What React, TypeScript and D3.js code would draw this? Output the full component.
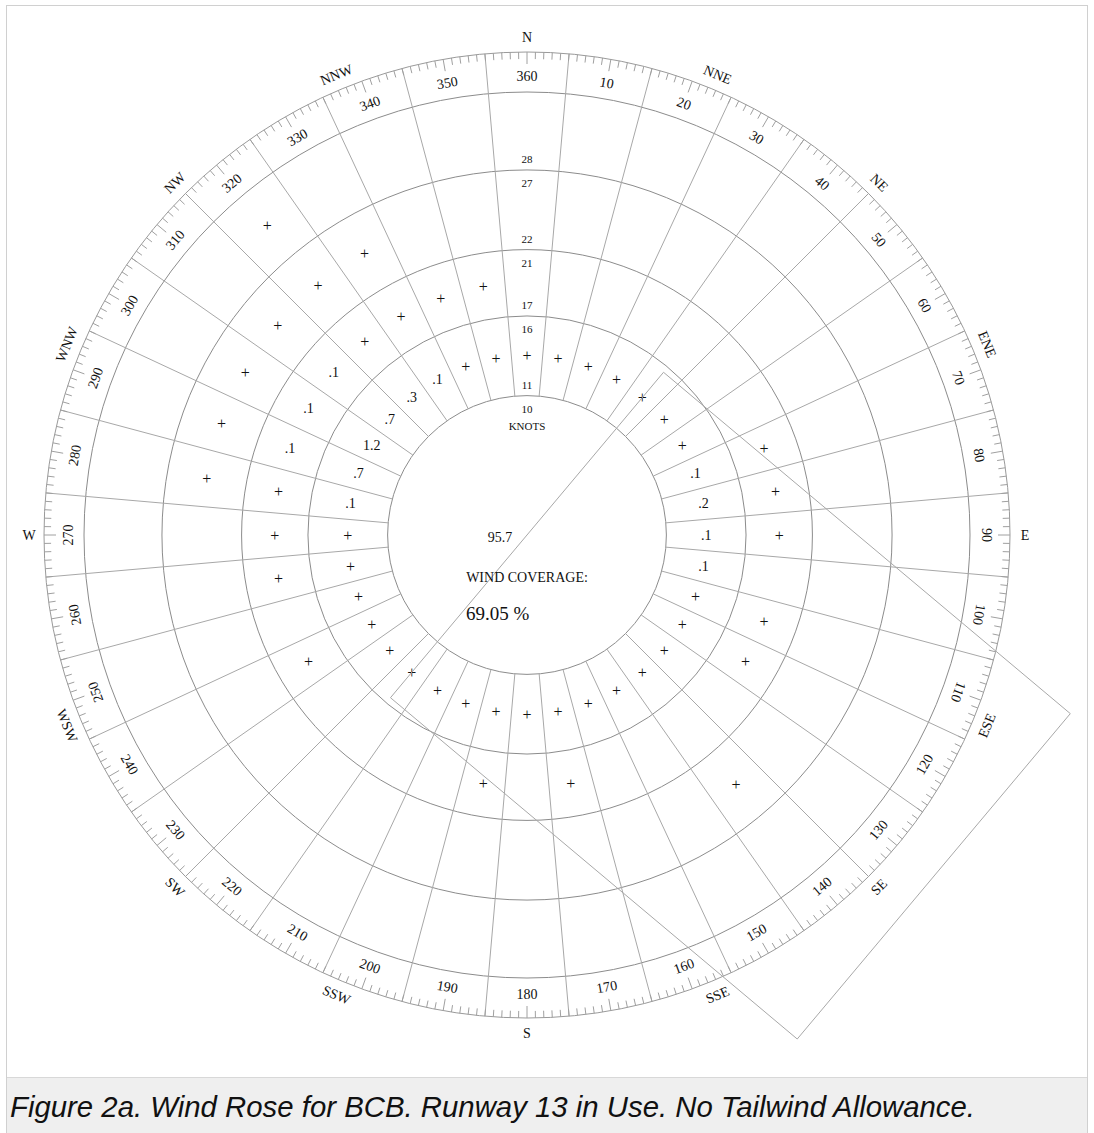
import React from "react";
import * as d3 from "d3";

// ---------- data ----------
const directions = [10, 20, 30, 40, 50, 60, 70, 80, 90, 100, 110, 120, 130, 140, 150, 160, 170, 180,
  190, 200, 210, 220, 230, 240, 250, 260, 270, 280, 290, 300, 310, 320, 330, 340, 350, 360];

// speed-band boundaries (knots) and their labels (inside / outside)
const ringSpeeds = [10.5, 16.5, 21.5, 27.5];
const ringLabelsInner = ["10", "16", "21", "27"];
const ringLabelsOuter = ["11", "17", "22", "28"];
const bandMidSpeeds = [13.5, 19, 24.5, 30.45];

// percentages per direction ("+" = trace)
const band1 = ["+", "+", "+", "+", "+", "+", ".1", ".2", ".1", ".1", "+", "+", "+", "+", "+", "+", "+", "+",
  "+", "+", "+", "+", "+", "+", "+", "+", "+", ".1", ".7", "1.2", ".7", ".3", ".1", "+", "+", "+"];
const band2 = ["", "", "", "", "", "", "+", "+", "+", "", "+", "+", "", "", "", "", "+", "",
  "+", "", "", "", "", "+", "", "+", "+", "+", ".1", ".1", ".1", "+", "+", "+", "+", ""];
const band3 = ["", "", "", "", "", "", "", "", "", "", "", "", "", "+", "", "", "", "",
  "", "", "", "", "", "", "", "", "", "+", "+", "+", "+", "+", "+", "", "", ""];
const band4 = ["", "", "", "", "", "", "", "", "", "", "", "", "", "", "", "", "", "",
  "", "", "", "", "", "", "", "", "", "", "", "", "", "+", "", "", "", ""];
const bands = [band1, band2, band3, band4];

const compassNames = ["N", "NNE", "NE", "ENE", "E", "ESE", "SE", "SSE", "S", "SSW", "SW", "WSW", "W", "WNW", "NW", "NNW"];

const calmPercent = "95.7";
const coverageTitle = "WIND COVERAGE:";
const coverageValue = "69.05 %";
const runwayHeading = 130;
const crosswindLimit = 16;
const runwayLength = 40;
const caption = "Figure 2a. Wind Rose for BCB. Runway 13 in Use. No Tailwind Allowance.";

// ---------- layout ----------
const W = 1094;
const H = 1133;
const cx = 527;
const cy = 535;
const rDirInner = 443;
const rDirOuter = 483;
const rDegLabel = 459;
const rCompass = 498;

const serif = "'Liberation Serif', 'Times New Roman', serif";

export default function App() {
  const r = d3.scaleLinear().domain([0, 40]).range([0, 531]);
  const rad = (deg: number) => (deg * Math.PI) / 180;
  const pt = (deg: number, radius: number) => d3.pointRadial(rad(deg), radius);

  const innerR = r(ringSpeeds[0]);
  const gridColor = "#8c8c8c";
  const radialColor = "#a8a8a8";

  // radial boundaries every 10° offset by 5°
  const boundaries = directions.map((d) => d - 5);

  // ticks every degree
  const ticks = d3.range(0, 360, 1);

  const rot = (a: number) => (a > 111 && a < 249 ? a - 180 : a);

  // runway rectangle
  const A = pt(runwayHeading - 90, r(crosswindLimit));
  const D = pt(runwayHeading + 90, r(crosswindLimit));
  const L = pt(runwayHeading, r(runwayLength));
  const rect = [A, [A[0] + L[0], A[1] + L[1]], [D[0] + L[0], D[1] + L[1]], D];
  const rectPath = d3.line()(rect as [number, number][]) + "Z";

  return (
    <svg
      width={W}
      height={H}
      style={{ position: "absolute", left: 0, top: 0, background: "#fff" }}
      fontFamily={serif}
    >
      {/* frame + caption */}
      <rect x={6.5} y={5.5} width={1081} height={1140} fill="#fff" stroke="#d0d0d0" />
      <rect x={7} y={1077} width={1080} height={60} fill="#efefef" />
      <line x1={7} x2={1087} y1={1077.5} y2={1077.5} stroke="#d8d8d8" />
      <text
        x={10}
        y={1117}
        fontFamily="'Liberation Sans', Arial, sans-serif"
        fontStyle="italic"
        fontSize={29}
        fill="#111"
        textLength={965}
        lengthAdjust="spacingAndGlyphs"
      >
        {caption}
      </text>

      <g transform={`translate(${cx},${cy})`}>
        {/* speed rings */}
        {ringSpeeds.map((s) => (
          <circle key={s} r={r(s)} fill="none" stroke={gridColor} strokeWidth={1} />
        ))}
        <circle r={rDirInner} fill="none" stroke={gridColor} strokeWidth={1} />
        <circle r={rDirOuter} fill="none" stroke={"#9a9a9a"} strokeWidth={1} />

        {/* radial sector lines */}
        {boundaries.map((b) => {
          const p0 = pt(b, innerR);
          const p1 = pt(b, rDirOuter);
          return <line key={b} x1={p0[0]} y1={p0[1]} x2={p1[0]} y2={p1[1]} stroke={radialColor} strokeWidth={1} />;
        })}

        {/* degree ticks */}
        {ticks.map((t) => {
          const len = t % 10 === 0 ? 12 : 7;
          const p0 = pt(t, rDirOuter);
          const p1 = pt(t, rDirOuter - len);
          return <line key={t} x1={p0[0]} y1={p0[1]} x2={p1[0]} y2={p1[1]} stroke="#a0a0a0" strokeWidth={1} />;
        })}

        {/* degree labels */}
        {directions.map((d) => {
          const p = pt(d, rDegLabel);
          return (
            <text
              key={d}
              transform={`translate(${p[0]},${p[1]}) rotate(${rot(d)})`}
              textAnchor="middle"
              dominantBaseline="central"
              fontSize={14}
              fill="#111"
            >
              {d}
            </text>
          );
        })}

        {/* compass labels */}
        {compassNames.map((n, i) => {
          const a = i * 22.5;
          const p = pt(a, rCompass);
          const angle = i % 4 === 0 ? 0 : rot(a);
          return (
            <text
              key={n}
              transform={`translate(${p[0]},${p[1]}) rotate(${angle})`}
              textAnchor="middle"
              dominantBaseline="central"
              fontSize={14}
              fill="#111"
            >
              {n}
            </text>
          );
        })}

        {/* speed labels along north */}
        {ringSpeeds.map((s, i) => (
          <g key={"sl" + s}>
            <text x={0} y={-r(s) + 13} textAnchor="middle" dominantBaseline="central" fontSize={11} fill="#111">
              {ringLabelsInner[i]}
            </text>
            <text x={0} y={-r(s) - 11} textAnchor="middle" dominantBaseline="central" fontSize={11} fill="#111">
              {ringLabelsOuter[i]}
            </text>
          </g>
        ))}
        <text x={0} y={-109} textAnchor="middle" dominantBaseline="central" fontSize={11} fill="#111">
          KNOTS
        </text>

        {/* cell values */}
        {bands.map((band, bi) =>
          band.map((v, di) => {
            if (!v) return null;
            const p = pt(directions[di], r(bandMidSpeeds[bi]));
            return (
              <text
                key={bi + "-" + di}
                x={p[0]}
                y={p[1]}
                textAnchor="middle"
                dominantBaseline="central"
                fontSize={v === "+" ? 16 : 14}
                fill="#111"
              >
                {v}
              </text>
            );
          })
        )}

        {/* runway coverage rectangle */}
        <path d={rectPath} fill="none" stroke="#a8a8a8" strokeWidth={1} />

        {/* center texts */}
        <text x={-27} y={7} textAnchor="middle" fontSize={14} fill="#111">
          {calmPercent}
        </text>
        <text x={0} y={47} textAnchor="middle" fontSize={14} fill="#111">
          {coverageTitle}
        </text>
        <text x={-61} y={85} textAnchor="start" fontSize={19} fill="#111">
          {coverageValue}
        </text>
      </g>
    </svg>
  );
}
